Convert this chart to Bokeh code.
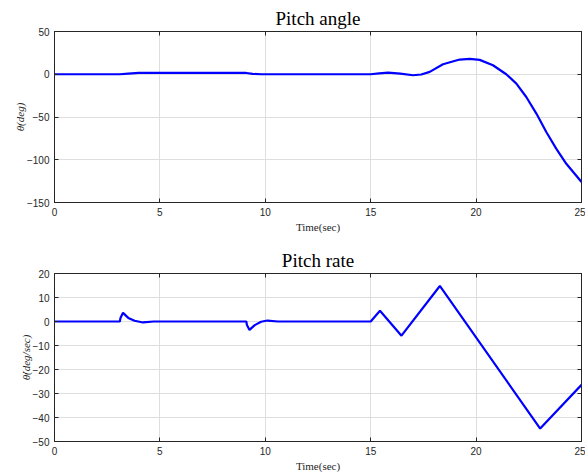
from bokeh.plotting import figure
from bokeh.layouts import column
from bokeh.models import Range1d, LinearAxis, FixedTicker
from bokeh.embed import file_html
from bokeh.resources import INLINE

# ---- data ----
t_angle = [0, 3.1, 3.5, 4.0, 9.1, 9.4, 9.8, 15.0, 15.4, 15.83, 16.4, 17.01, 17.4, 17.8,
           18.43, 19.22, 19.70, 20.17, 20.80, 21.43, 21.91, 22.38, 22.86, 23.33,
           23.80, 24.28, 25.0]
pitch_angle = [0, 0, 0.8, 1.5, 1.5, 0.5, 0, 0, 1.0, 2.0, 0.8, -1.2, -0.3, 2.8,
               11.7, 17.2, 18.0, 16.8, 10.5, 0, -10.9, -26.6, -46, -67.6,
               -87, -104.7, -126]

t_rate = [0, 3.1, 3.13, 3.25, 3.5, 3.8, 4.2, 4.7, 9.1, 9.13, 9.25, 9.5, 9.8,
          10.1, 10.6, 15.0, 15.44, 16.46, 18.28, 23.04, 25.0]
pitch_rate = [0, 0, 1.5, 3.6, 1.5, 0.3, -0.4, 0, 0, -1.5, -3.5, -1.5, -0.1,
              0.4, 0, 0, 4.5, -5.9, 14.8, -44.6, -26.4]

x_ticks = [0, 5, 10, 15, 20, 25]
y_ticks_angle = [-150, -100, -50, 0, 50]
y_ticks_rate = [-50, -40, -30, -20, -10, 0, 10, 20]

AX = "#262626"
SANS = "Liberation Sans"
SERIF = "Liberation Serif"


def make(title, ylabel, x, y, yr, yticks, top_border, bottom_border, height):
    p = figure(width=585, height=height, output_backend="svg", toolbar_location=None,
               x_range=Range1d(0, 25), y_range=Range1d(*yr),
               min_border_left=54, min_border_right=4,
               min_border_top=top_border, min_border_bottom=bottom_border)
    p.title.text = title
    p.title.align = "center"
    p.title.text_font = SERIF
    p.title.text_font_style = "normal"
    p.title.text_font_size = "19px"
    p.title.text_color = "black"
    p.title.standoff = 6
    p.outline_line_color = AX
    p.outline_line_width = 1
    p.background_fill_color = "white"
    p.border_fill_color = "white"

    p.xaxis.ticker = FixedTicker(ticks=x_ticks)
    p.yaxis.ticker = FixedTicker(ticks=yticks)
    for ax in (p.xaxis[0], p.yaxis[0]):
        ax.axis_line_color = AX
        ax.major_tick_line_color = AX
        ax.major_tick_in = 4
        ax.major_tick_out = 0
        ax.minor_tick_line_color = None
        ax.major_label_text_font = SANS
        ax.major_label_text_font_size = "10px"
        ax.major_label_text_color = AX
        ax.axis_label_text_font = SERIF
        ax.axis_label_text_color = AX
        ax.axis_label_text_font_size = "11px"
    p.xaxis.axis_label = "Time(sec)"
    p.xaxis.major_label_standoff = 5
    p.xaxis.axis_label_standoff = 2
    p.xaxis.axis_label_text_font_style = "normal"
    p.yaxis.axis_label = ylabel
    p.yaxis.axis_label_text_font_style = "italic"
    p.yaxis.major_label_standoff = 5
    p.yaxis.axis_label_standoff = -2

    # mirrored tick marks on top and right (labels not drawn)
    for loc in ("right", "above"):
        ax = LinearAxis(ticker=FixedTicker(ticks=x_ticks if loc == "above" else yticks),
                        major_label_text_color=None, major_label_text_font_size="1px",
                        major_label_standoff=0,
                        major_tick_in=4, major_tick_out=0, minor_tick_line_color=None,
                        axis_line_color=AX, major_tick_line_color=AX)
        p.add_layout(ax, loc)

    p.xgrid.ticker = FixedTicker(ticks=x_ticks)
    p.ygrid.ticker = FixedTicker(ticks=yticks)
    p.grid.grid_line_color = "#dedede"
    p.grid.grid_line_width = 1

    p.line(x, y, line_color="#0000ff", line_width=2.2)
    return p


p1 = make("Pitch angle", "θ(deg)", t_angle, pitch_angle, (-150, 50), y_ticks_angle, 31, 35, 237)
p2 = make("Pitch rate", "θ̇(deg/sec)", t_rate, pitch_rate, (-50, 20), y_ticks_rate, 36, 31, 237)

layout = column(p1, p2, spacing=0)
open("out.html", "w").write(file_html(layout, INLINE))
